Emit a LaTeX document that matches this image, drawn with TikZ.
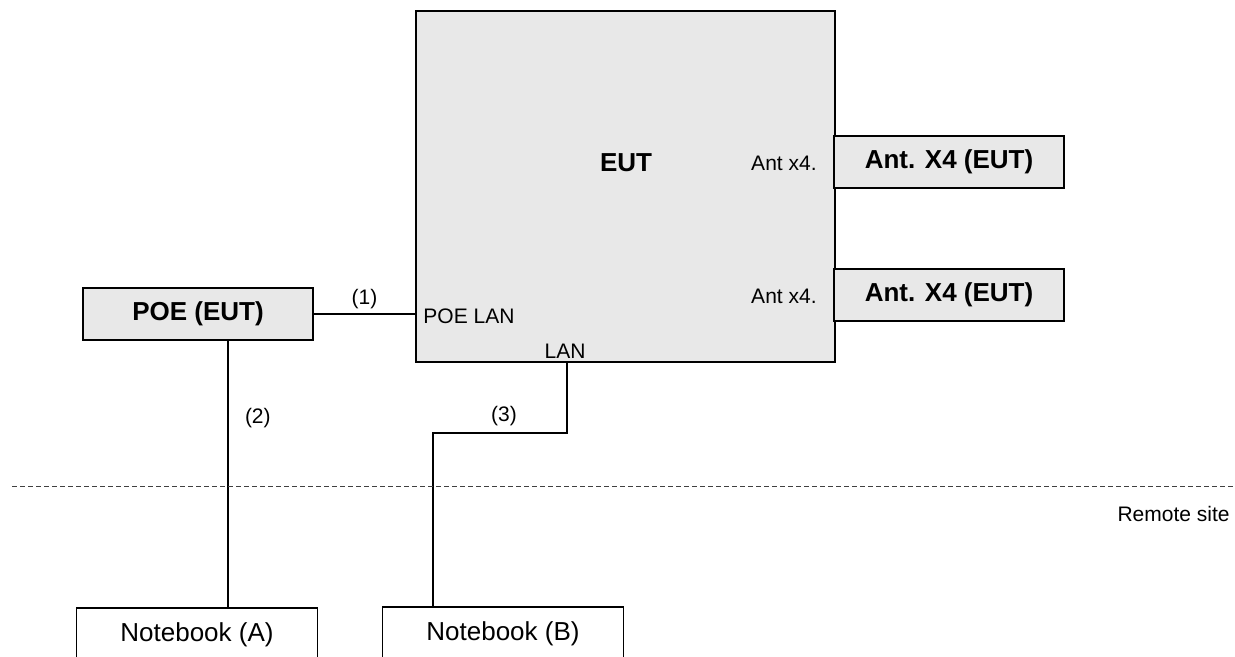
\documentclass[tikz,border=0pt]{standalone}
\usepackage{fontspec}
\setmainfont{Liberation Sans}
\usetikzlibrary{positioning}

\begin{document}
\begin{tikzpicture}[
    x=0.5pt, y=-0.5pt,
    % Define block styles
    unit/.style={rectangle, draw, line width=0.6pt, fill=eutgray, font=\fontsize{13}{15}\selectfont\bfseries},
    pc/.style={rectangle, draw, line width=0.6pt, fill=white, minimum width=120.5pt, minimum height=27pt, font=\fontsize{13}{15}\selectfont},
    % Define label and line styles
    port/.style={font=\fontsize{10.5}{12}\selectfont, inner sep=1pt},
    link/.style={line width=1pt}
]
    \definecolor{eutgray}{HTML}{E8E8E8}
    \useasboundingbox (0,0) rectangle (1235,657);
    \clip (0,0) rectangle (1235,657);

    % Nodes (blocks)
    \node[unit, minimum width=209.5pt, minimum height=175.5pt] (eut) at (625.5,186.5) {};
    \node[font=\fontsize{13}{15}\selectfont\bfseries] (eutname) at (626,163) {EUT};
    \node[unit, minimum width=115pt, minimum height=26pt] (poe) at (198,314) {POE (EUT)};
    \node[unit, minimum width=115pt, minimum height=26pt] (antA) at (949,162) {Ant. X4 (EUT)};
    \node[unit, minimum width=115pt, minimum height=26pt] (antB) at (949,295) {Ant. X4 (EUT)};
    \node[pc] (nbA) at (197,635) {Notebook (A)};
    \node[pc] (nbB) at (503,634) {Notebook (B)};

    % Port labels
    \node[port, anchor=west] (poelan) at (421,316) {POE LAN};
    \node[port] (lan) at (565,351) {LAN};
    \node[port, anchor=east] (antportA) at (819,163) {Ant x4.};
    \node[port, anchor=east] (antportB) at (819,296) {Ant x4.};

    % Connections with labels
    \draw[link] (poe.east) -- node[port, above=1pt] {(1)} (poe.east -| eut.west);
    \draw[link] ([xshift=15pt]poe.south) -- node[port, right=7pt, pos=0.29] {(2)} ([xshift=15pt]poe.south |- nbA.north);
    \coordinate (lanout) at (567,362);
    \draw[link] (lanout) -- (567,433) -- node[port, above=2pt, pos=0.47] {(3)} (433,433) -- (433,433 |- nbB.north);

    % Site border
    \coordinate (cutL) at (12,486);
    \coordinate (cutR) at (1235,486);
    \draw[line width=0.5pt, black!75, dash pattern=on 2.5pt off 1.5pt] (cutL) -- (cutR);
    \node[port, anchor=east] (remote) at (1232,514) {Remote site};

\end{tikzpicture}
\end{document}
